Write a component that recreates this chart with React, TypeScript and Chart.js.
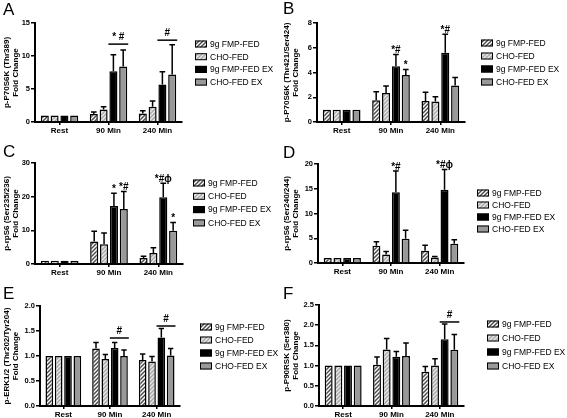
import React, { useEffect, useRef } from 'react';
import { Chart, registerables } from 'chart.js';

Chart.register(...registerables);

const FONT = "'Liberation Sans', Arial, Helvetica, sans-serif";

const categories = ['Rest', '90 Min', '240 Min'];
const groups = ['9g FMP-FED', 'CHO-FED', '9g FMP-FED EX', 'CHO-FED EX'];

// Panel A
const aTitle = ['p-P70S6K (Thr389)', 'Fold Change'];
const aFmp = [1, 1.2, 1.3];
const aFmpErr = [0, 0.3, 0.4];
const aCho = [1, 1.9, 2.3];
const aChoErr = [0, 0.4, 0.9];
const aFmpEx = [1, 7.7, 5.7];
const aFmpExErr = [0, 2.5, 1.9];
const aChoEx = [1, 8.4, 7.2];
const aChoExErr = [0, 2.5, 4.5];
const aMarks = [
  { cat: 1, from: 2, to: 3, at: 11.8, label: '* #' },
  { cat: 2, from: 2, to: 3, at: 12.4, label: '#' },
];

// Panel B
const bTitle = ['p-P70S6K (Thr421/Ser424)', 'Fold Change'];
const bFmp = [1, 1.75, 1.7];
const bFmpErr = [0, 0.7, 0.7];
const bCho = [1, 2.35, 1.65];
const bChoErr = [0, 0.55, 0.4];
const bFmpEx = [1, 4.5, 5.6];
const bFmpExErr = [0, 0.95, 1.5];
const bChoEx = [1, 3.8, 2.95];
const bChoExErr = [0, 0.45, 0.65];
const bMarks = [
  { cat: 1, from: 2, label: '*#' },
  { cat: 1, from: 3, label: '*' },
  { cat: 2, from: 2, label: '*#' },
];

// Panel C
const cTitle = ['p-rpS6 (Ser235/236)', 'Fold Change'];
const cFmp = [1, 6.7, 1.8];
const cFmpErr = [0, 3.0, 0.5];
const cCho = [1, 5.9, 3.3];
const cChoErr = [0, 3.3, 1.5];
const cFmpEx = [1, 17.2, 19.8];
const cFmpExErr = [0, 3.8, 4.2];
const cChoEx = [1, 16.3, 9.9];
const cChoExErr = [0, 5.2, 2.4];
const cMarks = [
  { cat: 1, from: 2, label: '*' },
  { cat: 1, from: 3, label: '*#' },
  { cat: 2, from: 2, label: '*#\u03d5' },
  { cat: 2, from: 3, label: '*' },
];

// Panel D
const dTitle = ['p-rpS6 (Ser240/244)', 'Fold Change'];
const dFmp = [1, 3.5, 2.5];
const dFmpErr = [0, 0.8, 1.1];
const dCho = [1, 1.7, 1.1];
const dChoErr = [0, 0.6, 0.2];
const dFmpEx = [1, 14.3, 14.8];
const dFmpExErr = [0, 4.3, 4.1];
const dChoEx = [1, 4.9, 3.9];
const dChoExErr = [0, 1.7, 0.8];
const dMarks = [
  { cat: 1, from: 2, label: '*#' },
  { cat: 2, from: 2, label: '*#\u03d5' },
];

// Panel E
const eTitle = ['p-ERK1/2 (Thr202/Tyr204)', 'Fold Change'];
const eFmp = [1, 1.15, 0.92];
const eFmpErr = [0, 0.12, 0.12];
const eCho = [1, 0.94, 0.89];
const eChoErr = [0, 0.09, 0.1];
const eFmpEx = [1, 1.16, 1.37];
const eFmpExErr = [0, 0.11, 0.18];
const eChoEx = [1, 1.0, 1.01];
const eChoExErr = [0, 0.12, 0.14];
const eMarks = [
  { cat: 1, from: 2, to: 3, at: 1.36, label: '#' },
  { cat: 2, from: 2, to: 3, at: 1.6, label: '#' },
];

// Panel F
const fTitle = ['p-P90RSK (Ser380)', 'Fold Change'];
const fFmp = [1, 1.02, 0.85];
const fFmpErr = [0, 0.19, 0.13];
const fCho = [1, 1.4, 1.0];
const fChoErr = [0, 0.27, 0.17];
const fFmpEx = [1, 1.22, 1.65];
const fFmpExErr = [0, 0.13, 0.38];
const fChoEx = [1, 1.24, 1.39];
const fChoExErr = [0, 0.32, 0.38];
const fMarks = [{ cat: 2, from: 2, to: 3, at: 2.08, label: '#' }];

type Mark = { cat: number; from: number; to?: number; at?: number; label: string };
type Panel = {
  letter: string; left: number; top: number; w: number; h: number;
  axisX: number; plotTop: number; zeroY: number; plotRight: number;
  legX: number; legY: number; legStep: number; letterY: number;
  title: string[]; max: number; step: number; dec: number;
  values: number[][]; errors: number[][]; marks: Mark[];
};

const panels: Panel[] = [
  { letter: 'A', left: 0, top: 0, w: 280, h: 140, axisX: 35, plotTop: 23, zeroY: 122, plotRight: 182,
    legX: 195, legY: 44, legStep: 12.7, letterY: 15, title: aTitle, max: 15, step: 5, dec: 0,
    values: [aFmp, aCho, aFmpEx, aChoEx], errors: [aFmpErr, aChoErr, aFmpExErr, aChoExErr], marks: aMarks },
  { letter: 'B', left: 280, top: 0, w: 287, h: 140, axisX: 37, plotTop: 23, zeroY: 122, plotRight: 185,
    legX: 201, legY: 43, legStep: 13, letterY: 14, title: bTitle, max: 8, step: 2, dec: 0,
    values: [bFmp, bCho, bFmpEx, bChoEx], errors: [bFmpErr, bChoErr, bFmpExErr, bChoExErr], marks: bMarks },
  { letter: 'C', left: 0, top: 140, w: 280, h: 140, axisX: 35, plotTop: 23, zeroY: 124, plotRight: 183,
    legX: 193, legY: 43, legStep: 13.3, letterY: 17, title: cTitle, max: 30, step: 10, dec: 0,
    values: [cFmp, cCho, cFmpEx, cChoEx], errors: [cFmpErr, cChoErr, cFmpExErr, cChoExErr], marks: cMarks },
  { letter: 'D', left: 280, top: 140, w: 287, h: 140, axisX: 38, plotTop: 24, zeroY: 123, plotRight: 184,
    legX: 197, legY: 53, legStep: 12, letterY: 18, title: dTitle, max: 20, step: 5, dec: 0,
    values: [dFmp, dCho, dFmpEx, dChoEx], errors: [dFmpErr, dChoErr, dFmpExErr, dChoExErr], marks: dMarks },
  { letter: 'E', left: 0, top: 280, w: 280, h: 138, axisX: 40, plotTop: 26, zeroY: 126, plotRight: 180,
    legX: 200, legY: 47, legStep: 13, letterY: 19, title: eTitle, max: 2, step: 0.5, dec: 1,
    values: [eFmp, eCho, eFmpEx, eChoEx], errors: [eFmpErr, eChoErr, eFmpExErr, eChoExErr], marks: eMarks },
  { letter: 'F', left: 280, top: 280, w: 287, h: 138, axisX: 39, plotTop: 25, zeroY: 126, plotRight: 184,
    legX: 207, legY: 44, legStep: 14, letterY: 19, title: fTitle, max: 2.5, step: 0.5, dec: 1,
    values: [fFmp, fCho, fFmpEx, fChoEx], errors: [fFmpErr, fChoErr, fFmpExErr, fChoExErr], marks: fMarks },
];

function hatch(bg: string, fg: string): CanvasPattern | string {
  const c = document.createElement('canvas');
  c.width = 4;
  c.height = 4;
  const g = c.getContext('2d');
  if (!g) return bg;
  g.fillStyle = bg;
  g.fillRect(0, 0, 4, 4);
  g.strokeStyle = fg;
  g.lineWidth = 1.5;
  g.beginPath();
  g.moveTo(0, 4); g.lineTo(4, 0);
  g.moveTo(-1, 1); g.lineTo(1, -1);
  g.moveTo(3, 5); g.lineTo(5, 3);
  g.stroke();
  return g.createPattern(c, 'repeat') || bg;
}

function makeConfig(p: Panel): any {
  const fills = [hatch('#ffffff', '#4d4d4d'), hatch('#e9e9e9', '#a9a9a9'), '#000000', '#999999'];
  const decor = {
    id: 'decor' + p.letter,
    afterDatasetsDraw(chart: any) {
      const ctx = chart.ctx;
      const ys = chart.scales.y;
      ctx.save();
      ctx.strokeStyle = '#000';
      ctx.lineWidth = 1.5;
      p.values.forEach((vals, di) => {
        const meta = chart.getDatasetMeta(di);
        meta.data.forEach((bar: any, i: number) => {
          const e = p.errors[di][i];
          if (!e) return;
          const yb = ys.getPixelForValue(vals[i]);
          const yt = ys.getPixelForValue(vals[i] + e);
          const half = Math.max(2.5, bar.width * 0.35);
          ctx.beginPath();
          ctx.moveTo(bar.x, yb);
          ctx.lineTo(bar.x, yt);
          ctx.moveTo(bar.x - half, yt);
          ctx.lineTo(bar.x + half, yt);
          ctx.stroke();
        });
      });
      ctx.restore();
    },
    afterDraw(chart: any) {
      const ctx = chart.ctx;
      const ys = chart.scales.y;
      ctx.save();
      // significance marks
      ctx.fillStyle = '#000';
      ctx.strokeStyle = '#000';
      ctx.textAlign = 'center';
      ctx.textBaseline = 'bottom';
      ctx.font = `bold 10px ${FONT}`;
      p.marks.forEach((m) => {
        const b1 = chart.getDatasetMeta(m.from).data[m.cat];
        if (m.to !== undefined && m.at !== undefined) {
          const b2 = chart.getDatasetMeta(m.to).data[m.cat];
          const y = ys.getPixelForValue(m.at);
          const x1 = b1.x - b1.width / 2 - 1;
          const x2 = b2.x + b2.width / 2 + 1;
          ctx.lineWidth = 1.5;
          ctx.beginPath();
          ctx.moveTo(x1, y);
          ctx.lineTo(x2, y);
          ctx.stroke();
          ctx.fillText(m.label, (x1 + x2) / 2, y - 1.5);
        } else {
          const v = p.values[m.from][m.cat] + p.errors[m.from][m.cat];
          const y = ys.getPixelForValue(v);
          ctx.fillText(m.label, b1.x, y + 1);
        }
      });
      // legend
      ctx.textAlign = 'left';
      ctx.textBaseline = 'middle';
      ctx.font = `8.5px ${FONT}`;
      groups.forEach((g, i) => {
        const cy = p.legY + i * p.legStep;
        ctx.fillStyle = fills[i];
        ctx.fillRect(p.legX, cy - 3.5, 12, 7);
        ctx.lineWidth = 1;
        ctx.strokeStyle = '#000';
        ctx.strokeRect(p.legX + 0.5, cy - 3, 11, 6);
        ctx.fillStyle = '#000';
        ctx.fillText(g, p.legX + 15, cy + 0.5);
      });
      // panel letter
      ctx.font = `17px ${FONT}`;
      ctx.textBaseline = 'alphabetic';
      ctx.fillText(p.letter, 3, p.letterY);
      ctx.restore();
    },
  };

  return {
    type: 'bar',
    data: {
      labels: categories,
      datasets: groups.map((g, i) => ({
        label: g,
        data: p.values[i],
        backgroundColor: fills[i],
        borderColor: '#000',
        borderWidth: 1.5,
        categoryPercentage: 0.8,
        barPercentage: 0.82,
      })),
    },
    options: {
      responsive: false,
      animation: false,
      layout: { padding: { top: p.plotTop, right: p.w - p.plotRight, left: 0, bottom: 0 } },
      plugins: { legend: { display: false }, tooltip: { enabled: false } },
      scales: {
        x: {
          grid: { display: true, drawOnChartArea: false, offset: false, tickLength: 3, color: '#000', lineWidth: 1.5 },
          border: { display: true, color: '#000', width: 2 },
          ticks: { color: '#000', font: { family: FONT, size: 8, weight: 'bold' }, padding: 1, maxRotation: 0, autoSkip: false },
          afterFit: (s: any) => { s.height = p.h - p.zeroY; },
        },
        y: {
          min: 0,
          max: p.max,
          ticks: {
            stepSize: p.step,
            color: '#000',
            padding: 1,
            font: { family: FONT, size: 7.5, weight: 'bold' },
            callback: (v: any) => Number(v).toFixed(p.dec),
          },
          grid: { display: true, drawOnChartArea: false, tickLength: 4, color: '#000', lineWidth: 1.5 },
          border: { display: true, color: '#000', width: 2 },
          title: {
            display: true,
            text: p.title,
            color: '#000',
            font: { family: FONT, size: 8, weight: 'bold', lineHeight: 1.15 },
            padding: { top: 2, bottom: 0 },
          },
          afterFit: (s: any) => { s.width = p.axisX; },
        },
      },
    },
    plugins: [decor],
  };
}

function PanelChart({ p }: { p: Panel }) {
  const ref = useRef<HTMLCanvasElement>(null);
  useEffect(() => {
    if (!ref.current) return;
    const chart = new Chart(ref.current, makeConfig(p));
    return () => chart.destroy();
  }, [p]);
  return (
    <canvas
      ref={ref}
      width={p.w}
      height={p.h}
      style={{ position: 'absolute', left: p.left, top: p.top, width: p.w, height: p.h }}
    />
  );
}

export default function App() {
  return (
    <div style={{ position: 'absolute', left: 0, top: 0, width: 567, height: 418, background: '#fff', overflow: 'hidden' }}>
      {panels.map((p) => (
        <PanelChart key={p.letter} p={p} />
      ))}
    </div>
  );
}
